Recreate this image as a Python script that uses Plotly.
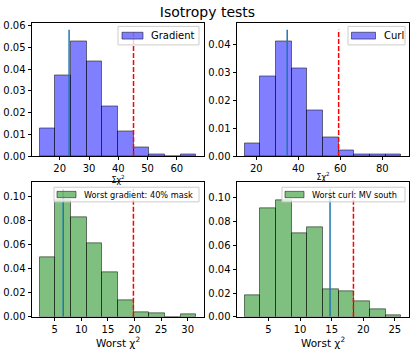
import plotly.graph_objects as go
import numpy as np

# histogram edges (lo, hi) and density heights
grad_range = (13.2, 66.6)
grad_heights = [0.0125, 0.0371, 0.0528, 0.0437, 0.0227, 0.0113, 0.0041, 0.0005, 0.0, 0.0006]
grad_obs, grad_thresh = 23.2, 45.2

curl_range = (14.5, 89.0)
curl_heights = [0.0044, 0.0287, 0.0412, 0.0316, 0.0162, 0.0066, 0.0021, 0.0007, 0.0004, 0.0004]
curl_obs, curl_thresh = 34.7, 59.2

wgrad_range = (2.2, 31.6)
wgrad_heights = [0.0495, 0.0965, 0.0822, 0.0607, 0.0365, 0.0138, 0.0038, 0.0030, 0.0, 0.0021]
wgrad_obs, wgrad_thresh = 6.6, 19.8

wcurl_range = (1.27, 26.0)
wcurl_heights = [0.0178, 0.0910, 0.0978, 0.0704, 0.0750, 0.0233, 0.0211, 0.0132, 0.0063, 0.0016]
wcurl_obs, wcurl_thresh = 14.75, 18.45

panels = [
    dict(rng=grad_range, h=grad_heights, obs=grad_obs, thr=grad_thresh, name='Gradient',
         fill='rgba(0,0,255,0.5)', xticks=[20, 30, 40, 50, 60], yticks=[0, 0.01, 0.02, 0.03, 0.04, 0.05, 0.06],
         xtitle='Σχ<sup>2</sup>', tsize=8),
    dict(rng=curl_range, h=curl_heights, obs=curl_obs, thr=curl_thresh, name='Curl',
         fill='rgba(0,0,255,0.5)', xticks=[20, 40, 60, 80], yticks=[0, 0.01, 0.02, 0.03, 0.04],
         xtitle='Σχ<sup>2</sup>', tsize=8),
    dict(rng=wgrad_range, h=wgrad_heights, obs=wgrad_obs, thr=wgrad_thresh, name='Worst gradient: 40% mask',
         fill='rgba(0,128,0,0.5)', xticks=[5, 10, 15, 20, 25, 30], yticks=[0, 0.02, 0.04, 0.06, 0.08, 0.10],
         xtitle='Worst χ<sup>2</sup>', tsize=10.5),
    dict(rng=wcurl_range, h=wcurl_heights, obs=wcurl_obs, thr=wcurl_thresh, name='Worst curl: MV south',
         fill='rgba(0,128,0,0.5)', xticks=[5, 10, 15, 20, 25], yticks=[0, 0.02, 0.04, 0.06, 0.08, 0.10],
         xtitle='Worst χ<sup>2</sup>', tsize=10.5),
]

W, H = 415, 356
xdom = [[32 / W, 204 / W], [237 / W, 409 / W]]
ydom = [[1 - 157 / H, 1 - 21 / H], [1 - 322 / H, 1 - 184 / H]]
# legend box (x0, x1, y0, y1) in pixels, patch x0/x1, text font size
legbox = [
    (118, 199, 24, 43, 122, 143, 10),
    (348, 405, 24, 43, 351.5, 375.5, 10),
    (54, 199, 189, 204, 57, 76, 8.2),
    (282, 405, 189, 204, 285, 304, 8.2),
]

FONT = 'DejaVu Sans'
fig = go.Figure()
layout = {}
shapes, annots = [], []


def px(x):
    return x / W


def py(y):
    return 1 - y / H


for i, p in enumerate(panels):
    n = i + 1
    xa = 'x' if n == 1 else f'x{n}'
    ya = 'y' if n == 1 else f'y{n}'
    edges = np.linspace(p['rng'][0], p['rng'][1], len(p['h']) + 1)
    centers = (edges[:-1] + edges[1:]) / 2
    bw = edges[1] - edges[0]
    top = 1.1 * max(p['h'])

    fig.add_trace(go.Bar(x=centers, y=p['h'], width=bw, name=p['name'],
                         marker=dict(color=p['fill'], line=dict(color='rgba(0,0,0,0.5)', width=1)),
                         xaxis=xa, yaxis=ya, showlegend=False))
    fig.add_trace(go.Scatter(x=[p['obs'], p['obs']], y=[0, top], mode='lines',
                             line=dict(color='#1f77b4', width=1.5), xaxis=xa, yaxis=ya, showlegend=False))
    fig.add_trace(go.Scatter(x=[p['thr'], p['thr']], y=[0, top], mode='lines',
                             line=dict(color='red', width=1.5, dash='5px,2px'), xaxis=xa, yaxis=ya, showlegend=False))

    span = p['rng'][1] - p['rng'][0]
    axis_common = dict(showline=True, mirror=True, linecolor='black', linewidth=0.8,
                       ticks='outside', ticklen=3.5, tickwidth=0.8, tickcolor='black',
                       showgrid=False, zeroline=False, tickfont=dict(family=FONT, size=10, color='black'))
    layout['xaxis' if n == 1 else f'xaxis{n}'] = dict(
        axis_common, domain=xdom[i % 2], anchor=ya,
        range=[p['rng'][0] - 0.05 * span, p['rng'][1] + 0.05 * span],
        tickvals=p['xticks'],
        title=dict(text=p['xtitle'], font=dict(family=FONT, size=p['tsize'], color='black'), standoff=0))
    layout['yaxis' if n == 1 else f'yaxis{n}'] = dict(
        axis_common, domain=ydom[i // 2], anchor=xa,
        range=[0, top * 1.05], tickvals=p['yticks'], tickformat='.2f')

    # hand-drawn matplotlib-style legend
    bx0, bx1, by0, by1, pa0, pa1, fs = legbox[i]
    ym = (by0 + by1) / 2
    ph = 7 if fs >= 10 else 6.5
    shapes.append(dict(type='rect', xref='paper', yref='paper', layer='above',
                       x0=px(bx0), x1=px(bx1), y0=py(by1), y1=py(by0),
                       fillcolor='rgba(255,255,255,0.8)', line=dict(color='#cccccc', width=1)))
    shapes.append(dict(type='rect', xref='paper', yref='paper', layer='above',
                       x0=px(pa0), x1=px(pa1), y0=py(ym + ph / 2), y1=py(ym - ph / 2),
                       fillcolor=p['fill'], line=dict(color='rgba(0,0,0,0.5)', width=1)))
    annots.append(dict(text=p['name'], xref='paper', yref='paper', x=px(pa1 + 6), y=py(ym),
                       xanchor='left', yanchor='middle', showarrow=False,
                       font=dict(family=FONT, size=fs, color='black')))

fig.update_layout(**layout)
fig.update_layout(
    width=W, height=H,
    margin=dict(l=0, r=0, t=0, b=0),
    paper_bgcolor='white', plot_bgcolor='white',
    bargap=0, showlegend=False,
    shapes=shapes, annotations=annots,
    title=dict(text='Isotropy tests', x=0.5, xanchor='center', y=1 - 12 / H, yanchor='middle',
               font=dict(family=FONT, size=14, color='black')),
)

# drop the browser's default body margin so the figure sits at the page corner
fig.write_html("out.html", config={'displayModeBar': False},
               post_script="document.body.style.margin='0';")
